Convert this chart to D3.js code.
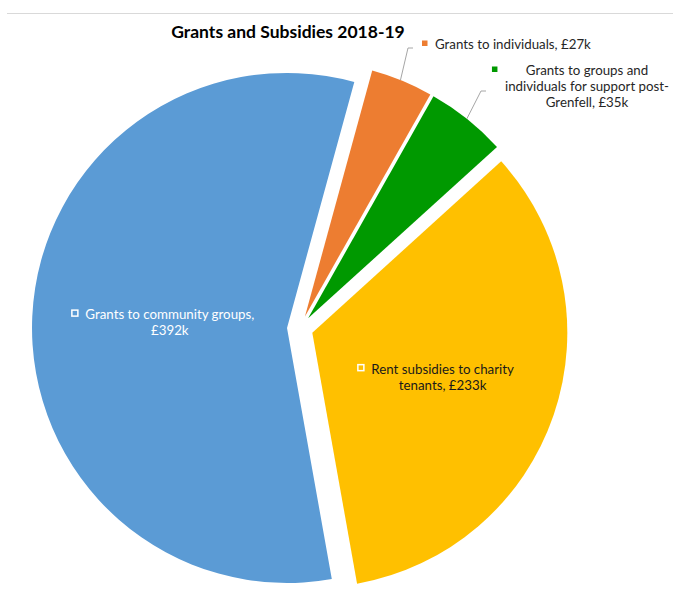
<!DOCTYPE html>
<html>
<head>
<meta charset="utf-8">
<script src="https://cdn.jsdelivr.net/npm/d3@7"></script>
<style>
  body { margin: 0; background: #fff; }
  svg { display: block; font-family: Lato, "Open Sans", sans-serif; }
</style>
</head>
<body>
<svg width="673" height="603"></svg>
<script>
// data (clockwise from the first slice)
const categories = [
  "Grants to individuals",
  "Grants to groups and individuals for support post-Grenfell",
  "Rent subsidies to charity tenants",
  "Grants to community groups"
];
const values = [27, 35, 233, 392];
const valueLabels = ["£27k", "£35k", "£233k", "£392k"];
const labelLines = [
  ["Grants to individuals, £27k"],
  ["Grants to groups and", "individuals for support post-", "Grenfell, £35k"],
  ["Rent subsidies to charity", "tenants, £233k"],
  ["Grants to community groups,", "£392k"]
];
const colors = ["#ED7D31", "#009900", "#FFC000", "#5B9BD5"];

(()=>{
  let svg = d3.select("svg");
  let cx = 300, cy = 328.5, radius = 255, explode = 13;
  let startDeg = 15.3;

  // thin frame line at top
  svg.append("line")
    .attr("x1", 7).attr("x2", 673).attr("y1", 13.5).attr("y2", 13.5)
    .attr("stroke", "#d9d9d9").attr("stroke-width", 1);

  svg.append("text")
    .attr("x", 288).attr("y", 38)
    .attr("text-anchor", "middle")
    .attr("font-size", 17.5).attr("font-weight", "bold")
    .attr("fill", "#000")
    .text("Grants and Subsidies 2018-19");

  let data = categories.map((c, i) => ({cat: c, value: values[i], idx: i}));
  let pie = d3.pie().sort(null).value(d => d.value)
    .startAngle(startDeg * Math.PI / 180)
    .endAngle(startDeg * Math.PI / 180 + 2 * Math.PI);
  let arcs = pie(data);
  let arc = d3.arc().innerRadius(0).outerRadius(radius);

  let g = svg.append("g").attr("transform", "translate(" + cx + "," + cy + ")");

  function offset(d, dist){
    let a = (d.startAngle + d.endAngle) / 2;
    return [Math.sin(a) * dist, -Math.cos(a) * dist];
  }

  g.selectAll(".slice").data(arcs).enter()
    .append("path")
    .attr("class", "slice")
    .attr("transform", d => { let o = offset(d, explode); return "translate(" + o[0] + "," + o[1] + ")"; })
    .attr("d", arc)
    .attr("fill", d => colors[d.data.idx]);

  // label layout: inside slices for the big ones, outside with leaders for the small ones
  let lineH = 16, fs = 13.3;
  let layout = [
    {x: 435, y: 49, anchor: "start", leader: [[413, 48], [408, 48]], leaderAngle: 22.0},
    {x: 587, y: 75, anchor: "middle", leader: [[486, 91], [481, 91]], leaderAngle: 38.5},
    {inside: 0.54, anchor: "middle", color: "#1a1a1a"},
    {inside: 0.46, anchor: "middle", color: "#fff"}
  ];

  arcs.forEach((d, i) => {
    let L = layout[i];
    let tx, ty;
    if (L.inside){
      let o = offset(d, explode + radius * L.inside);
      tx = cx + o[0];
      ty = cy + o[1] - (labelLines[i].length - 1) * lineH / 2 + 4.5;
    } else {
      tx = L.x; ty = L.y;
    }
    let t = svg.append("text")
      .attr("font-size", fs)
      .attr("fill", L.color || "#262626")
      .attr("text-anchor", L.anchor);
    labelLines[i].forEach((s, k) => {
      t.append("tspan").attr("x", tx).attr("y", ty + k * lineH).text(s);
    });
    let widths = t.selectAll("tspan").nodes().map(n => n.getComputedTextLength());
    let maxW = d3.max(widths);
    let left = L.anchor === "start" ? tx : tx - maxW / 2;
    if (L.inside){
      svg.append("rect")
        .attr("x", left - 13.5).attr("y", ty - 9)
        .attr("width", 6).attr("height", 6)
        .attr("fill", colors[i]).attr("stroke", "#fff").attr("stroke-width", 1.5);
    } else {
      svg.append("rect")
        .attr("x", left - 13).attr("y", ty - 8.5)
        .attr("width", 5.5).attr("height", 5.5)
        .attr("fill", colors[i]);
      // leader line to the slice edge
      let a = L.leaderAngle * Math.PI / 180;
      let o = offset(d, explode);
      let p0 = L.leader[1];
      // point on arc where leader meets it: search along arc near leaderAngle
      let ex = cx + o[0] + Math.sin(a) * radius;
      let ey = cy + o[1] - Math.cos(a) * radius;
      svg.append("path")
        .attr("d", d3.line()([L.leader[0], p0, [ex, ey]]))
        .attr("fill", "none").attr("stroke", "#a6a6a6").attr("stroke-width", 1);
    }
  });
})();
</script>
</body>
</html>
